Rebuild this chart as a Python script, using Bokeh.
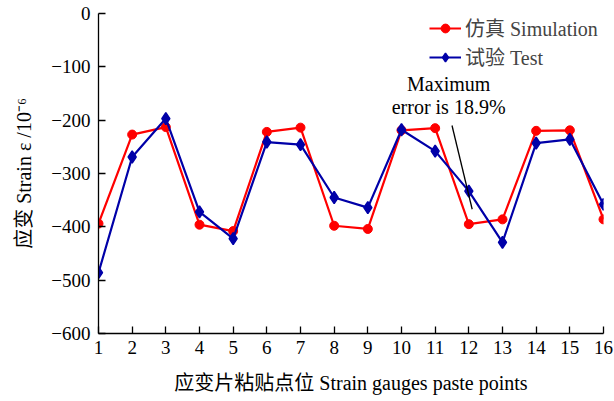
from bokeh.plotting import figure
from bokeh.models import Label, ColumnDataSource, CustomJSTickFormatter, FixedTicker, Legend, LegendItem, Range1d
from bokeh.embed import file_html
from bokeh.resources import INLINE

points = list(range(1, 17))
simulation = [-394, -227, -213, -396, -408, -222, -214, -398, -404, -219, -215, -395, -386, -220, -219, -386]
test = [-486, -269, -197, -372, -422, -241, -246, -345, -364, -218, -258, -333, -429, -243, -236, -358]
y_ticks = [0, -100, -200, -300, -400, -500, -600]
x_ticks = points
sim_label = "仿真 Simulation"
test_label = "试验 Test"
note_lines = ["Maximum", "error is 18.9%"]
arrow_start = (11.5, -210)
arrow_end = (12.1, -367)

FONT = "'Liberation Serif', 'Noto Sans CJK SC'"
FS_TICK = "19px"
FS = "20px"

p = figure(width=614, height=401, output_backend="svg", toolbar_location=None,
           x_range=Range1d(1, 16), y_range=Range1d(-600, 0),
           min_border_left=98, min_border_right=11, min_border_top=13, min_border_bottom=68)
p.outline_line_color = None
p.xgrid.visible = False
p.ygrid.visible = False
p.background_fill_color = "white"
p.border_fill_color = "white"

for ax in (p.xaxis[0], p.yaxis[0]):
    ax.axis_line_color = "black"
    ax.axis_line_width = 1.3
    ax.major_tick_in = 7
    ax.major_tick_out = 0
    ax.major_tick_line_color = "black"
    ax.major_tick_line_width = 1.3
    ax.minor_tick_line_color = None
    ax.major_label_text_font = FONT
    ax.major_label_text_font_size = FS_TICK
    ax.major_label_text_color = "black"
    ax.axis_label_text_font = FONT
    ax.axis_label_text_font_size = FS
    ax.axis_label_text_font_style = "normal"
    ax.axis_label_text_color = "black"

p.xaxis.ticker = FixedTicker(ticks=x_ticks)
p.yaxis.ticker = FixedTicker(ticks=y_ticks)
p.yaxis.formatter = CustomJSTickFormatter(code="return tick.toString().replace('-', '\\u2212');")
p.xaxis.major_label_standoff = 7
p.yaxis.major_label_standoff = 8
p.xaxis.axis_label = "应变片粘贴点位 Strain gauges paste points"
p.yaxis.axis_label = "应变 Strain ε /10⁻⁶"
p.xaxis.axis_label_standoff = 15
p.yaxis.axis_label_standoff = 13

src = ColumnDataSource(dict(x=points, sim=simulation, test=test))
r1 = p.line("x", "sim", source=src, line_color="#ff0000", line_width=2.2)
r1m = p.scatter("x", "sim", source=src, marker="circle", size=9, fill_color="#ff0000", line_color="#ff0000")
r2 = p.line("x", "test", source=src, line_color="#0000a8", line_width=2.2)
r2m = p.scatter("x", "test", source=src, marker="diamond", size=12, line_width=1.5,
                fill_color="#0000a8", line_color="#0000a8")

p.segment(x0=[arrow_start[0]], y0=[arrow_start[1]], x1=[arrow_end[0]], y1=[arrow_end[1]], line_color="black", line_width=1.3)

p.add_layout(Label(x=11.4, y=-132, text=note_lines[0], text_align="center", text_baseline="middle",
                   text_font=FONT, text_font_size=FS, text_color="black"))
p.add_layout(Label(x=11.4, y=-175, text=note_lines[1], text_align="center", text_baseline="middle",
                   text_font=FONT, text_font_size=FS, text_color="black"))

legend = Legend(items=[LegendItem(label=sim_label, renderers=[r1, r1m]),
                       LegendItem(label=test_label, renderers=[r2, r2m])],
                location=(331, 262))
legend.border_line_color = None
legend.background_fill_alpha = 0
legend.label_text_font = FONT
legend.label_text_font_size = FS
legend.glyph_width = 32
legend.glyph_height = 22
legend.label_height = 22
legend.spacing = -3
legend.padding = 3
legend.margin = 0
legend.label_standoff = 4
p.add_layout(legend)

open("out.html", "w").write(file_html(p, INLINE))
